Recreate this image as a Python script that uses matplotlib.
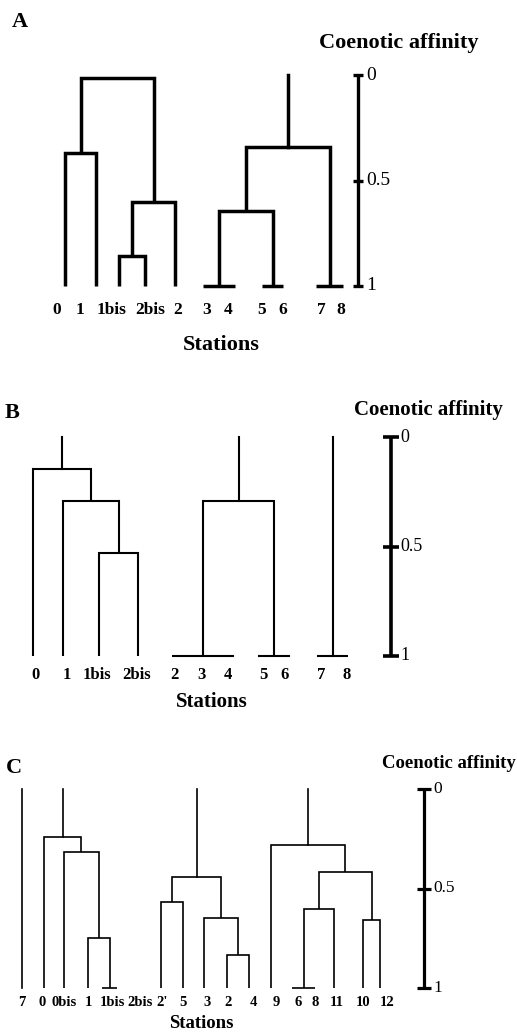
import matplotlib
matplotlib.use("Agg")
import matplotlib.pyplot as plt

plt.rcParams["font.family"] = ["Liberation Serif", "DejaVu Serif"]

W, H = 517, 1032

# affinity scale shown on the right of each panel
scale_ticks = [0, 0.5, 1]
scale_labels = ["0", "0.5", "1"]

# dendrograms: (affinity, [children]) ; a child is a station name or another merge
a_groups = [
    (0.015, [(0.37, ["0", "1"]), (0.60, [(0.86, ["1bis", "2bis"]), "2"])]),
    (0.34, [(0.645, [(1.0, ["3", "4"]), (1.0, ["5", "6"])]), (1.0, ["7", "8"])]),
]
b_groups = [
    (0.144, ["0", (0.292, ["1", (0.529, ["1bis", "2bis"])])]),
    (0.292, [(1.0, ["2", "3", "4"]), (1.0, ["5", "6"])]),
    (1.0, ["7", "8"]),
]
c_groups = [
    "7",
    (0.24, ["0", (0.319, ["0bis", (0.751, ["1", (1.0, ["1bis", "2bis"])])])]),
    (0.441, [(0.570, ["2'", "5"]), (0.646, ["3", (0.832, ["2", "4"])])]),
    (0.282, ["9", (0.416, [(0.601, [(1.0, ["6", "8"]), "11"]), (0.659, ["10", "12"])])]),
]

# layout (pixels): where each station sits and where its label goes
a_leaf_x = {"0": 65, "1": 96, "1bis": 119, "2bis": 145, "2": 175, "3": 203, "4": 235,
            "5": 262, "6": 283, "7": 316, "8": 343}
a_lab_x = {"0": 57, "1": 80, "1bis": 112, "2bis": 150, "2": 178, "3": 207, "4": 228,
           "5": 262, "6": 283, "7": 321, "8": 341}
b_leaf_x = {"0": 33, "1": 63, "1bis": 99, "2bis": 138, "2": 172, "3": 202, "4": 234,
            "5": 258, "6": 290, "7": 317, "8": 348}
b_lab_x = {"0": 35, "1": 67, "1bis": 97, "2bis": 137, "2": 174, "3": 201, "4": 228,
           "5": 263, "6": 285, "7": 321, "8": 347}
c_leaf_x = {"7": 22, "0": 44, "0bis": 64, "1": 88, "1bis": 102, "2bis": 117, "2'": 161,
            "5": 183, "3": 204, "2": 227, "4": 249, "9": 271, "6": 292, "8": 315,
            "11": 334, "10": 363, "12": 380}
c_lab_x = {"7": 22, "0": 42, "0bis": 64, "1": 88, "1bis": 112, "2bis": 140, "2'": 162,
           "5": 183, "3": 207, "2": 228, "4": 253, "9": 276, "6": 298, "8": 315,
           "11": 337, "10": 363, "12": 387}

panels = [
    dict(letter="A", groups=a_groups, leaf_x=a_leaf_x, lab_x=a_lab_x, top=75, bot=286,
         lw=2.5, bar_x=358, bar_lw=2.4, tick_w=10, lab_off=8, fs_lab=12.5, fs_scale=14,
         fs_title=16, title_xy=(399, 43), letter_xy=(20, 22), lab_y=310, st_xy=(221, 345)),
    dict(letter="B", groups=b_groups, leaf_x=b_leaf_x, lab_x=b_lab_x, top=437, bot=656,
         lw=1.5, bar_x=391, bar_lw=2.6, tick_w=16, lab_off=9, fs_lab=12, fs_scale=13,
         fs_title=15, title_xy=(428, 410), letter_xy=(12, 413), lab_y=675, st_xy=(212, 702)),
    dict(letter="C", groups=c_groups, leaf_x=c_leaf_x, lab_x=c_lab_x, top=789, bot=988,
         lw=1.2, bar_x=424, bar_lw=2.3, tick_w=14, lab_off=9, fs_lab=10.5, fs_scale=12.5,
         fs_title=13.5, title_xy=(449, 764), letter_xy=(14, 768), lab_y=1003, st_xy=(201, 1024)),
]


def draw(ax, node, leaf_x, lw):
    if isinstance(node, str):
        return leaf_x[node], 1.0
    h, kids = node
    pts = [draw(ax, k, leaf_x, lw) for k in kids]
    pts.sort()
    (x0, y0), (xn, yn) = pts[0], pts[-1]
    ax.plot([x0, x0, xn, xn], [y0, h, h, yn], color="black", lw=lw,
            solid_joinstyle="miter", solid_capstyle="butt", clip_on=False)
    for x, y in pts[1:-1]:
        ax.plot([x, x], [y, h], color="black", lw=lw, clip_on=False)
    return (x0 + xn) / 2, h


fig = plt.figure(figsize=(W / 100, H / 100), dpi=100)
fig.patch.set_facecolor("white")

for p in panels:
    top, bot = p["top"], p["bot"]
    ax = fig.add_axes([0, 1 - bot / H, 1, (bot - top) / H])
    ax.set_xlim(0, W)
    ax.set_ylim(1, 0)
    ax.axis("off")

    def yv(py):
        return (py - top) / (bot - top)

    for g in p["groups"]:
        x, y = draw(ax, g, p["leaf_x"], p["lw"])
        if y > 0.05:
            ax.plot([x, x], [y, 0], color="black", lw=p["lw"], clip_on=False)

    for name, lx in p["lab_x"].items():
        ax.text(lx, yv(p["lab_y"]), name, ha="center", va="center",
                fontsize=p["fs_lab"], fontweight="bold")

    ax.text(p["st_xy"][0], yv(p["st_xy"][1]), "Stations", ha="center", va="center",
            fontsize=p["fs_title"], fontweight="bold")
    ax.text(p["title_xy"][0], yv(p["title_xy"][1]), "Coenotic affinity", ha="center",
            va="center", fontsize=p["fs_title"], fontweight="bold")
    ax.text(p["letter_xy"][0], yv(p["letter_xy"][1]), p["letter"], ha="center",
            va="center", fontsize=16, fontweight="bold")

    bx = p["bar_x"]
    ax.plot([bx, bx], [scale_ticks[0], scale_ticks[-1]], color="black", lw=p["bar_lw"],
            solid_capstyle="butt", clip_on=False)
    ax.plot([bx] * len(scale_ticks), scale_ticks, ls="none", marker="_", color="black",
            markersize=p["tick_w"] * 0.72, markeredgewidth=p["bar_lw"], clip_on=False)
    for t, s in zip(scale_ticks, scale_labels):
        ax.text(bx + p["lab_off"], t, s, ha="left", va="center", fontsize=p["fs_scale"])

fig.savefig("out.png", dpi=100, facecolor="white")
